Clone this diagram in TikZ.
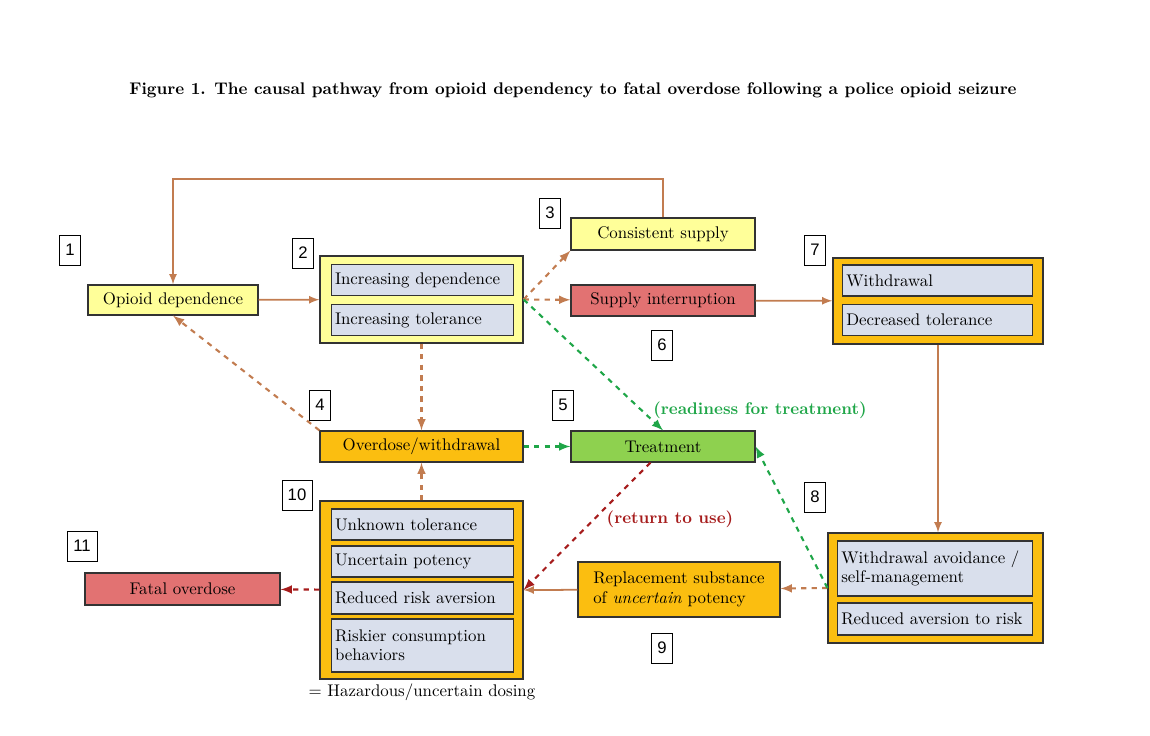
\documentclass[tikz,border=0pt]{standalone}
\usepackage{fontspec}
\newfontfamily\numfont{Liberation Sans}
\usetikzlibrary{arrows,positioning,shapes}
\definecolor{brn}{HTML}{C27C50}
\definecolor{yel}{HTML}{FFFF99}
\definecolor{gry}{HTML}{D9DFEC}
\definecolor{org}{HTML}{FBBE10}
\definecolor{grn}{HTML}{8ED14F}
\definecolor{rd}{HTML}{E27272}
\definecolor{dgrn}{HTML}{1FA648}
\definecolor{drd}{HTML}{A61C1C}
\begin{document}
\begin{tikzpicture}[x=0.02cm, y=-0.02cm,
    every node/.style={font=\fontsize{9.6}{11}\selectfont},
    box/.style={draw=black!80, line width=0.7pt, inner sep=2pt},
    inbox/.style={box, fill=gry, text width=3.5cm, align=left},
    num/.style={draw=black, thin, font=\numfont\fontsize{9.5}{10}\selectfont, minimum width=0.42cm, minimum height=0.6cm, inner sep=1pt},
    sol/.style={brn, line width=1pt, -latex},
    dsh/.style={brn, line width=1.2pt, dashed, -latex}]
\useasboundingbox (0,0) rectangle (1150,736);

\node[font=\bfseries\fontsize{9.6}{11}\selectfont] (title) at (573,90)
  {Figure 1. The causal pathway from opioid dependency to fatal overdose following a police opioid seizure};

% main boxes
\node[box, fill=yel, minimum width=3.4cm, minimum height=0.6cm] (opd) at (173,300) {Opioid dependence};
\node[box, fill=yel, minimum width=4.06cm, minimum height=1.74cm] (dep) at (421.5,299.5) {};
\node[inbox, minimum height=0.62cm] (incd) at (422.5,280) {Increasing dependence};
\node[inbox, minimum height=0.62cm] (inct) at (422.5,320) {Increasing tolerance};
\node[box, fill=yel, minimum width=3.68cm, minimum height=0.64cm] (cons) at (663,234) {Consistent supply};
\node[box, fill=rd, minimum width=3.68cm, minimum height=0.62cm] (intr) at (663,300.5) {Supply interruption};
\node[box, fill=org, minimum width=4.2cm, minimum height=1.72cm] (wd) at (938,301) {};
\node[inbox, text width=3.65cm, minimum height=0.62cm] (wdr) at (937.5,280.5) {Withdrawal};
\node[inbox, text width=3.65cm, minimum height=0.62cm] (dect) at (937.5,320) {Decreased tolerance};
\node[box, fill=org, minimum width=4.06cm, minimum height=0.62cm] (ovd) at (421.5,446.5) {Overdose/withdrawal};
\node[box, fill=grn, minimum width=3.68cm, minimum height=0.62cm] (trt) at (663,446.5) {Treatment};
\node[box, fill=org, minimum width=4.06cm, minimum height=3.56cm] (haz) at (421.5,590) {};
\node[inbox, minimum height=0.62cm] (unkt) at (422.5,524.5) {Unknown tolerance};
\node[inbox, minimum height=0.62cm] (uncp) at (422.5,561.5) {Uncertain potency};
\node[inbox, minimum height=0.64cm] (rra) at (422.5,598) {Reduced risk aversion};
\node[inbox, minimum height=1.06cm] (risk) at (422.5,645.5) {Riskier consumption\\behaviors};
\node[box, fill=rd, minimum width=3.9cm, minimum height=0.64cm] (fod) at (182.5,589) {Fatal overdose};
\node[box, fill=org, minimum width=4.04cm, minimum height=1.1cm, align=left] (rep) at (679,589.5) {Replacement substance\\of \emph{uncertain} potency};
\node[box, fill=org, minimum width=4.3cm, minimum height=2.2cm] (avd) at (935.5,588) {};
\node[inbox, text width=3.75cm, minimum height=1.1cm] (wav) at (935,568.5) {Withdrawal avoidance /\\self-management};
\node[inbox, text width=3.75cm, minimum height=0.64cm] (rav) at (935,619) {Reduced aversion to risk};

% numbers
\node[num] (n1) at (70,250) {1};
\node[num] (n2) at (303,253) {2};
\node[num] (n3) at (550,213) {3};
\node[num] (n4) at (320,405) {4};
\node[num] (n5) at (563,405) {5};
\node[num] (n6) at (662,345) {6};
\node[num] (n7) at (815,250) {7};
\node[num] (n8) at (815,497) {8};
\node[num] (n9) at (662,648) {9};
\node[num, minimum width=0.6cm] (n10) at (297,495) {10};
\node[num, minimum width=0.6cm] (n11) at (82,546) {11};

% labels
\node[dgrn, font=\bfseries\fontsize{9.6}{11}\selectfont] (lrd) at (760,410) {(readiness for treatment)};
\node[drd, font=\bfseries\fontsize{9.6}{11}\selectfont] (lru) at (670,519) {(return to use)};
\node (lhz) at (422,692) {= Hazardous/uncertain dosing};

% connectors
\coordinate (tr) at (663,179);
\coordinate (tl) at (173,179);
\draw[sol] (cons.north) -- (tr) -- (tl) -- (opd.north);
\draw[sol] (opd) -- (dep);
\draw[dsh] (dep.east) -- (cons.south west);
\draw[dsh] (dep.east) -- (intr);
\draw[dsh, dgrn] (dep.east) -- (trt.north);
\draw[dsh] (dep) -- (ovd);
\draw[dsh] (ovd.north west) -- (opd.south);
\draw[dsh, dgrn] (ovd) -- (trt);
\draw[sol] (intr) -- (wd);
\draw[sol] (wd.south) -- (wd.south |- avd.north);
\draw[dsh] (avd.west) -- (rep);
\draw[dsh, dgrn] (avd.west) -- (trt.east);
\draw[sol] (rep) -- (haz.east);
\draw[dsh, drd] (trt.south west) ++(80,0) coordinate (ts) -- (haz.east);
\draw[dsh] (haz) -- (ovd);
\draw[dsh, drd] (haz) -- (fod);
\end{tikzpicture}
\end{document}
